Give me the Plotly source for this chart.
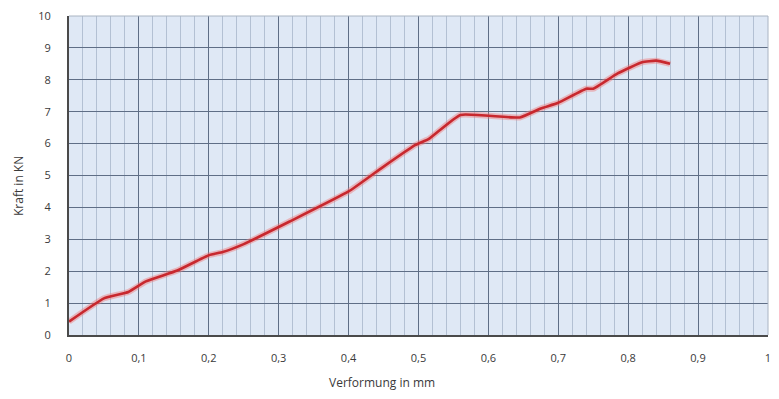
import plotly.graph_objects as go

verformung_mm = [0, 0.05, 0.085, 0.11, 0.155, 0.2, 0.22, 0.25, 0.315, 0.4, 0.445, 0.495,
                 0.515, 0.56, 0.645, 0.675, 0.7, 0.74, 0.75, 0.785, 0.82, 0.84, 0.86]
kraft_kn = [0.42, 1.15, 1.35, 1.68, 2.02, 2.5, 2.6, 2.85, 3.55, 4.5, 5.2, 5.95,
            6.15, 6.9, 6.82, 7.1, 7.28, 7.72, 7.72, 8.2, 8.55, 8.6, 8.5]

x_tickvals = [0, 0.1, 0.2, 0.3, 0.4, 0.5, 0.6, 0.7, 0.8, 0.9, 1]
x_ticktext = ["0", "0,1", "0,2", "0,3", "0,4", "0,5", "0,6", "0,7", "0,8", "0,9", "1"]
y_tickvals = list(range(0, 11))

W, H = 779, 399
ml, mr, mt, mb = 69, 11, 16, 64

fig = go.Figure()
fig.add_trace(go.Scatter(
    x=verformung_mm, y=kraft_kn, mode="lines",
    line=dict(color="rgba(240,120,120,0.45)", width=6, shape="spline", smoothing=0.4),
    hoverinfo="skip", showlegend=False))
fig.add_trace(go.Scatter(
    x=verformung_mm, y=kraft_kn, mode="lines",
    line=dict(color="#c8282e", width=2.6, shape="spline", smoothing=0.4),
    showlegend=False))

font = dict(family="Open Sans, Liberation Sans, sans-serif", size=11, color="#3a3a3a")

fig.update_layout(
    width=W, height=H,
    margin=dict(l=ml, r=mr, t=mt, b=mb, autoexpand=False),
    paper_bgcolor="white",
    plot_bgcolor="#dfe8f5",
    font=font,
    xaxis=dict(
        range=[0, 1.0001], tickvals=x_tickvals, ticktext=x_ticktext,
        showgrid=True, gridcolor="#5f6e86", gridwidth=1,
        minor=dict(dtick=0.02, showgrid=True, gridcolor="#b3c0d3", gridwidth=1),
        showline=True, linecolor="#4a4a4a", linewidth=2, mirror=False,
        zeroline=False, ticks="", ticklabelstandoff=12, automargin=False,
        tickfont=font,
    ),
    yaxis=dict(
        range=[0, 10], tickvals=y_tickvals,
        showgrid=True, gridcolor="#5f6e86", gridwidth=1,
        showline=True, linecolor="#4a4a4a", linewidth=2,
        zeroline=False, ticks="", ticklabelstandoff=14, automargin=False,
        tickfont=font,
    ),
    shapes=[
        dict(type="line", xref="paper", yref="paper", x0=0, x1=1, y0=1, y1=1,
             line=dict(color="#aab4c2", width=1)),
        dict(type="line", xref="paper", yref="paper", x0=1, x1=1, y0=0, y1=1,
             line=dict(color="#aab4c2", width=1)),
    ],
    annotations=[
        dict(text="Verformung in mm", xref="paper", yref="paper",
             x=(382 - ml) / (W - ml - mr), y=-(383 - (H - mb)) / (H - mt - mb),
             showarrow=False, xanchor="center", yanchor="middle",
             font=dict(family="Open Sans, Liberation Sans, sans-serif", size=12, color="#3a3a3a")),
        dict(text="Kraft in KN", xref="paper", yref="paper",
             x=-(ml - 18) / (W - ml - mr), y=1 - (186 - mt) / (H - mt - mb),
             showarrow=False, xanchor="center", yanchor="middle", textangle=-90,
             font=dict(family="Open Sans, Liberation Sans, sans-serif", size=12, color="#3a3a3a")),
    ],
)

fig.write_html("out.html", config={"displayModeBar": False},
               post_script="document.body.style.margin='0';")
